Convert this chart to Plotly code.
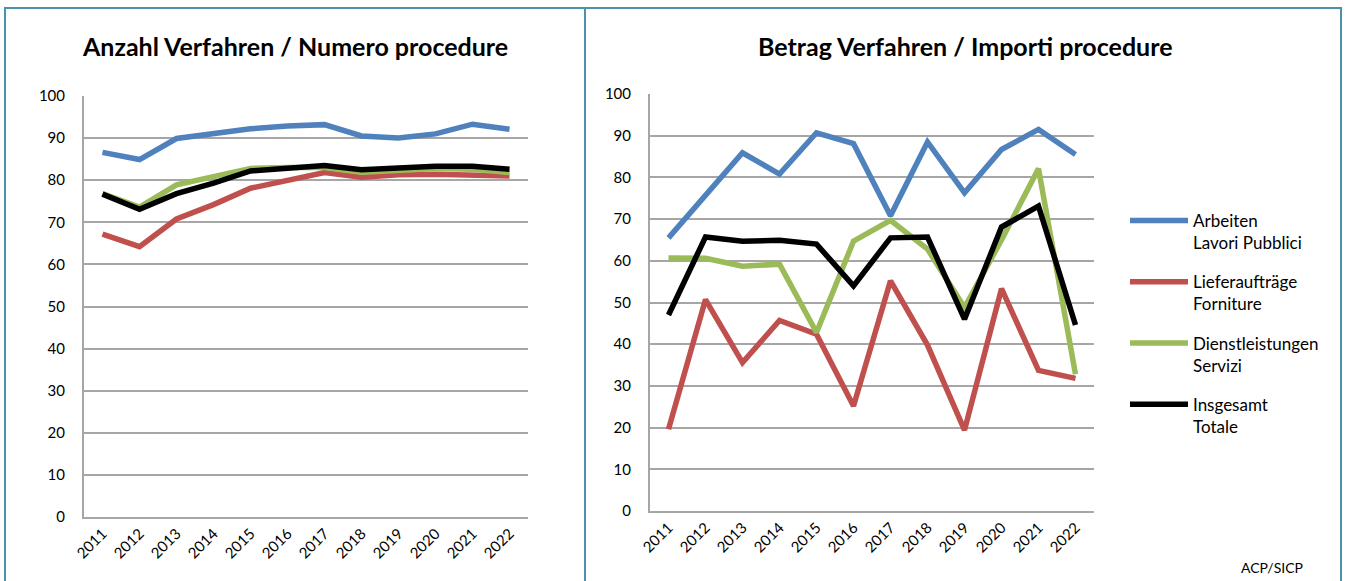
import plotly.graph_objects as go

# Data
years = ['2011', '2012', '2013', '2014', '2015', '2016',
         '2017', '2018', '2019', '2020', '2021', '2022']

# Left: Anzahl Verfahren / Numero procedure
n_arbeiten = [86.6, 84.9, 89.9, 91.0, 92.2, 92.9, 93.2, 90.5, 90.0, 91.0, 93.3, 92.1]
n_liefer = [67.2, 64.2, 70.8, 74.2, 78.1, 80.0, 81.8, 80.7, 81.3, 81.4, 81.1, 81.0]
n_dienst = [76.8, 73.6, 78.9, 80.8, 82.8, 83.0, 83.0, 81.9, 82.4, 82.8, 82.6, 81.8]
n_gesamt = [76.7, 73.1, 76.8, 79.3, 82.2, 82.7, 83.5, 82.5, 83.0, 83.3, 83.3, 82.6]

# Right: Betrag Verfahren / Importi procedure
b_arbeiten = [65.5, 75.9, 85.9, 80.8, 90.7, 88.1, 70.8, 88.5, 76.3, 86.7, 91.5, 85.5]
b_liefer = [19.6, 50.7, 35.6, 45.7, 42.4, 25.2, 55.2, 39.8, 19.4, 53.3, 33.7, 31.8]
b_dienst = [60.7, 60.6, 58.7, 59.2, 42.8, 64.7, 69.7, 62.8, 48.8, 65.0, 82.1, 32.8]
b_gesamt = [47.0, 65.7, 64.7, 64.9, 64.0, 54.0, 65.5, 65.7, 46.0, 68.1, 73.1, 44.6]

names = ['Arbeiten<br>Lavori Pubblici', 'Lieferaufträge<br>Forniture',
         'Dienstleistungen<br>Servizi', 'Insgesamt<br>Totale']
colors = ['#4F81BD', '#C0504D', '#9BBB59', '#000000']

W, H = 1345, 581
FONT = 'Lato'
frame = '#4A93AA'
grid = '#A6A6A6'

fig = go.Figure()

left = [n_arbeiten, n_liefer, n_dienst, n_gesamt]
right = [b_arbeiten, b_liefer, b_dienst, b_gesamt]

for i, (name, col) in enumerate(zip(names, colors)):
    fig.add_trace(go.Scatter(x=years, y=left[i], mode='lines', name=name,
                             line=dict(color=col, width=5.5),
                             showlegend=False, xaxis='x', yaxis='y',
                             hoverinfo='skip'))
for i, (name, col) in enumerate(zip(names, colors)):
    fig.add_trace(go.Scatter(x=years, y=right[i], mode='lines', name=name,
                             line=dict(color=col, width=5.5),
                             legendgroup=str(i), xaxis='x2', yaxis='y2',
                             hoverinfo='skip'))


def px_x(p):
    return p / W


def px_y(p):
    return 1 - p / H


xax = dict(type='category', range=[-0.5, 11.5], showgrid=False,
           showline=True, linecolor=grid, linewidth=2, tickangle=-45,
           ticks='', zeroline=False, automargin=False,
           tickfont=dict(family=FONT, size=15, color='#000000'),
           fixedrange=True)
yax = dict(range=[0, 100], dtick=10, showgrid=True, gridcolor=grid,
           gridwidth=1.5, showline=True, linecolor=grid, linewidth=2,
           zeroline=False, ticks='', ticklabelstandoff=14, automargin=False,
           tickfont=dict(family=FONT, size=15, color='#000000'),
           fixedrange=True)

fig.update_layout(
    width=W, height=H,
    margin=dict(l=0, r=0, t=0, b=0, autoexpand=False),
    paper_bgcolor='white', plot_bgcolor='white',
    font=dict(family=FONT, color='#000000'),
    xaxis=dict(xax, domain=[px_x(84), px_x(528)], anchor='y'),
    yaxis=dict(yax, domain=[px_y(517), px_y(96)], anchor='x'),
    xaxis2=dict(xax, domain=[px_x(650), px_x(1094)], anchor='y2'),
    yaxis2=dict(yax, domain=[px_y(511), px_y(94)], anchor='x2'),
    legend=dict(x=px_x(1125), y=px_y(203), xanchor='left', yanchor='top',
                font=dict(family=FONT, size=17, color='#000000'),
                itemwidth=58, tracegroupgap=14, valign='top',
                bgcolor='rgba(0,0,0,0)'),
    showlegend=True,
)

# titles
fig.add_annotation(text='<b>Anzahl Verfahren / Numero procedure</b>',
                   x=px_x(295), y=px_y(46), xref='paper', yref='paper',
                   xanchor='center', yanchor='middle', showarrow=False,
                   font=dict(family=FONT, size=25))
fig.add_annotation(text='<b>Betrag Verfahren / Importi procedure</b>',
                   x=px_x(965), y=px_y(46), xref='paper', yref='paper',
                   xanchor='center', yanchor='middle', showarrow=False,
                   font=dict(family=FONT, size=25))
fig.add_annotation(text='ACP/SICP', x=px_x(1272), y=px_y(567),
                   xref='paper', yref='paper', xanchor='center',
                   yanchor='middle', showarrow=False,
                   font=dict(family=FONT, size=14))

# panel frames
for x0, x1 in [(5, 585), (585, 1341)]:
    fig.add_shape(type='rect', xref='paper', yref='paper',
                  x0=px_x(x0), x1=px_x(x1), y0=-0.05, y1=px_y(8),
                  line=dict(color=frame, width=2), layer='below')

fig.write_html('out.html', config={'displayModeBar': False},
               post_script="document.body.style.margin='0';"
                           "document.body.style.overflow='hidden';")
